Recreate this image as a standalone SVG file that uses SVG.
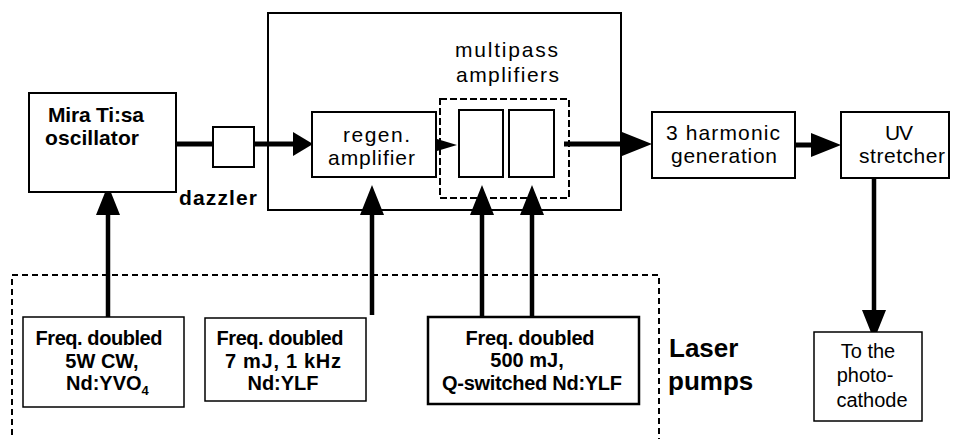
<svg xmlns="http://www.w3.org/2000/svg" width="954" height="439" viewBox="0 0 954 439">
<style>
.box{fill:#fff;stroke:#000;stroke-width:2}
.thin{fill:#fff;stroke:#000;stroke-width:1.5}
.dash{fill:none;stroke:#000;stroke-width:2;stroke-dasharray:6 4}
.beam{fill:none;stroke:#000;stroke-width:5}
.pump{fill:none;stroke:#000;stroke-width:4.5}
text{font-family:"Liberation Sans",Arial,sans-serif;fill:#000}
.lbl{font-size:21px}
.b{font-weight:bold}
.pl{font-size:20px;font-weight:bold;text-anchor:middle}
.pc{font-size:20px;text-anchor:middle}
</style>
<defs>
<marker id="ah" markerUnits="userSpaceOnUse" markerWidth="30" markerHeight="24" refX="15" refY="12" orient="auto" viewBox="0 0 30 24"><path d="M0,0 L30,12 L0,24 z" fill="#000"/></marker>
<marker id="ahShort" markerUnits="userSpaceOnUse" markerWidth="20" markerHeight="24" refX="10" refY="12" orient="auto" viewBox="0 0 20 24"><path d="M0,0 L20,12 L0,24 z" fill="#000"/></marker>
<marker id="ahSmall" markerUnits="userSpaceOnUse" markerWidth="20" markerHeight="12" refX="10" refY="6" orient="auto" viewBox="0 0 20 12"><path d="M0,0 L20,6 L0,12 z" fill="#000"/></marker>
</defs>

<g id="laser-pumps">
<path class="dash" d="M12,445 V275 H659 V445"/>
<text class="b" x="669" y="357" font-size="26">Laser</text>
<text class="b" x="668" y="390" font-size="26">pumps</text>
</g>

<g id="amplifier-enclosure">
<rect class="box" x="268" y="13" width="353" height="197"/>
</g>

<g id="connectors">
<path class="beam" d="M176,144 H303" marker-end="url(#ahShort)"/>
<path class="beam" d="M564,144 H637" marker-end="url(#ah)"/>
<path class="beam" d="M795,145 H826" marker-end="url(#ah)"/>
<path class="pump" d="M874,178 V325" marker-end="url(#ah)"/>
<path class="pump" d="M108,317 V200" marker-end="url(#ah)"/>
<path class="pump" d="M372,315 V200" marker-end="url(#ah)"/>
<path class="pump" d="M482,316 V200" marker-end="url(#ah)"/>
<path class="pump" d="M532,316 V200" marker-end="url(#ah)"/>
<path fill="none" stroke="#000" stroke-width="2" d="M436,145 H447" marker-end="url(#ahSmall)"/>
</g>

<g id="mira">
<rect class="box" x="29" y="93" width="147" height="99"/>
<text class="lbl b" x="48" y="122" textLength="96">Mira Ti:sa</text>
<text class="lbl b" x="45" y="145" textLength="94">oscillator</text>
</g>

<g id="dazzler">
<rect class="box" x="213" y="127" width="41" height="40"/>
<text class="lbl b" x="179" y="205" textLength="78">dazzler</text>
</g>

<g id="regen">
<rect class="box" x="312" y="112" width="124" height="65"/>
<text class="lbl" x="343" y="142" textLength="67">regen.</text>
<text class="lbl" x="328" y="165" textLength="87">amplifier</text>
</g>

<g id="multipass">
<rect class="dash" x="440" y="99" width="129" height="99" style="stroke-dasharray:7 3"/>
<rect class="box" x="459" y="110" width="44" height="67"/>
<rect class="box" x="509" y="110" width="45" height="67"/>
<text class="lbl" x="455" y="57" textLength="103">multipass</text>
<text class="lbl" x="456" y="82" textLength="103">amplifiers</text>
</g>

<g id="harmonic">
<rect class="box" x="652" y="112" width="143" height="66"/>
<text class="lbl" x="666" y="140" textLength="114">3 harmonic</text>
<text class="lbl" x="671" y="163" textLength="106">generation</text>
</g>

<g id="uv-stretcher">
<rect class="box" x="841" y="112" width="108" height="66"/>
<text class="lbl" x="885" y="140" textLength="28">UV</text>
<text class="lbl" x="859" y="163" textLength="86">stretcher</text>
</g>

<g id="photocathode">
<rect class="thin" x="814" y="332" width="108" height="89"/>
<text class="pc" x="868" y="358">To the</text>
<text class="pc" x="865" y="382">photo-</text>
<text class="pc" x="872" y="407">cathode</text>
</g>

<g id="pump1">
<rect class="thin" x="23" y="317" width="161" height="90"/>
<text class="pl" x="99" y="345" textLength="127">Freq. doubled</text>
<text class="pl" x="102" y="368">5W CW,</text>
<text class="b" x="66" y="390" font-size="20">Nd:YVO<tspan font-size="13" dy="5">4</tspan></text>
</g>

<g id="pump2">
<rect class="thin" x="205" y="318" width="161" height="83"/>
<text class="pl" x="280" y="345" textLength="127">Freq. doubled</text>
<text class="pl" x="283" y="368" textLength="116">7 mJ, 1 kHz</text>
<text class="pl" x="283" y="390">Nd:YLF</text>
</g>

<g id="pump3">
<rect class="box" x="428" y="317" width="211" height="87" style="stroke-width:2.5"/>
<text class="pl" x="530" y="345" textLength="129">Freq. doubled</text>
<text class="pl" x="527" y="367">500 mJ,</text>
<text class="pl" x="532" y="390" textLength="180">Q-switched Nd:YLF</text>
</g>
</svg>
